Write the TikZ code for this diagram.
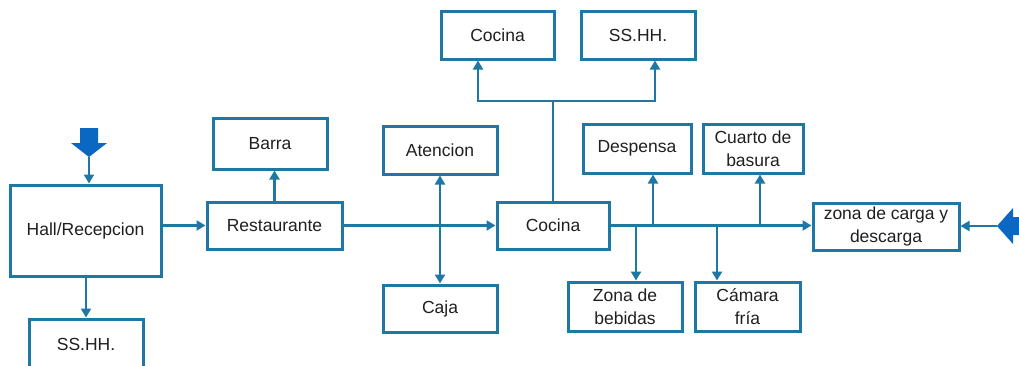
\documentclass[tikz,border=0pt]{standalone}
\usepackage{fontspec}
\setmainfont{Liberation Sans}
\usetikzlibrary{arrows.meta}
\definecolor{ln}{HTML}{1F78A4}
\definecolor{blk}{HTML}{0B68C2}
\begin{document}
\begin{tikzpicture}[x=1pt,y=-1pt,
  box/.style={draw=ln,line width=3pt,inner sep=0pt,align=center,
    font=\fontsize{17.5}{22.5}\selectfont,text=black!88},
  conn/.style={draw=ln,line width=2.6pt,-{Triangle[length=9pt,width=10pt]}},
  dconn/.style={draw=ln,line width=2.6pt,{Triangle[length=9pt,width=10pt]}-{Triangle[length=9pt,width=10pt]}},
  plain/.style={draw=ln,line width=2.6pt},
  entry/.style={fill=blk,draw=none}]
\useasboundingbox (0,0) rectangle (1019,365);
\clip (0,0) rectangle (1019,365);

% nodes
\node[box,minimum width=151pt,minimum height=91pt] (hall) at (85.5,230.5) {Hall/Recepcion};
\node[box,minimum width=114pt,minimum height=51pt] (ssb) at (86,344.5) {SS.HH.};
\node[box,minimum width=135pt,minimum height=47pt] (rest) at (274.5,225.5) {Restaurante};
\node[box,minimum width=114pt,minimum height=51pt] (barra) at (270,143.5) {Barra};
\node[box,minimum width=114pt,minimum height=48pt] (aten) at (440,150) {Atencion};
\node[box,minimum width=114pt,minimum height=47pt] (caja) at (440,308.5) {Caja};
\node[box,minimum width=112pt,minimum height=47pt] (coc) at (553,225.5) {Cocina};
\node[box,minimum width=113pt,minimum height=48pt] (cocT) at (497.5,35) {Cocina};
\node[box,minimum width=114pt,minimum height=48pt] (ssT) at (638,35) {SS.HH.};
\node[box,minimum width=108pt,minimum height=49pt] (desp) at (637,148.5) {Despensa};
\node[box,minimum width=100pt,minimum height=49pt] (cuarto) at (753,148.5) {Cuarto de\\basura};
\node[box,minimum width=146pt,minimum height=47pt] (zona) at (886,226.5) {zona de carga y\\descarga};
\node[box,minimum width=114pt,minimum height=49pt] (zb) at (625,306.5) {Zona de\\bebidas};
\node[box,minimum width=105pt,minimum height=49pt] (cf) at (747.5,306.5) {Cámara\\fría};

% entry block arrows
\coordinate (tin) at (89,157);
\fill[entry] (80,128) -- (98,128) -- (98,143) -- (107,143) -- (tin) -- (71,143) -- (80,143) -- cycle;
\coordinate (rin) at (997,226);
\fill[entry] (rin) -- (1013,208) -- (1013,217) -- (1030,217) -- (1030,235) -- (1013,235) -- (1013,244) -- cycle;

% connectors
\draw[conn] (tin) -- (tin |- hall.north);
\draw[conn] (hall.east |- rest.west) -- (rest.west);
\draw[conn] (hall.south -| 86,0) -- (ssb.north);
\draw[conn] (rest.north) -- (rest.north |- barra.south);
\draw[conn] (rest.east) -- (coc.west);
\draw[dconn] (aten.south) -- (caja.north);

\coordinate (bl) at (478,101);
\coordinate (br) at (655,101);
\draw[plain] (coc.north) -- (coc.north |- bl);
\draw[dconn] (bl |- cocT.south) -- (bl) -- (br) -- (br |- ssT.south);

\draw[conn] (coc.east) -- (coc.east -| zona.west);
\coordinate (b1) at (636,225.5);
\coordinate (b2) at (653,225.5);
\coordinate (b3) at (717,225.5);
\coordinate (b4) at (760,225.5);
\draw[conn] (b1) -- (b1 |- zb.north);
\draw[conn] (b2) -- (b2 |- desp.south);
\draw[conn] (b3) -- (b3 |- cf.north);
\draw[conn] (b4) -- (b4 |- cuarto.south);
\draw[conn] (rin) -- (rin -| zona.east);
\end{tikzpicture}
\end{document}
